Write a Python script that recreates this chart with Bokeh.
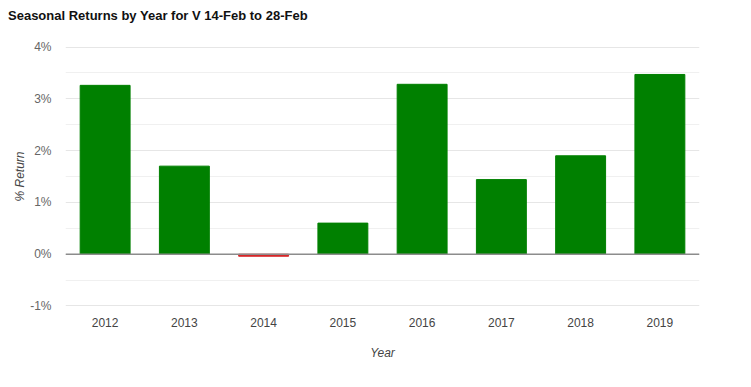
from bokeh.plotting import figure
from bokeh.layouts import column
from bokeh.models import ColumnDataSource, FactorRange, Range1d, FixedTicker, Span, CustomJSTickFormatter, Div
from bokeh.embed import file_html
from bokeh.resources import INLINE

title_text = "Seasonal Returns by Year for V 14-Feb to 28-Feb"
years = ["2012", "2013", "2014", "2015", "2016", "2017", "2018", "2019"]
returns = [3.26, 1.70, -0.04, 0.60, 3.28, 1.44, 1.90, 3.47]
colors = ["#008000" if r >= 0 else "#d62728" for r in returns]
y_ticks = [-1, 0, 1, 2, 3, 4]

src = ColumnDataSource(dict(year=years, ret=returns, color=colors))

header = Div(text=title_text, width=751, height=30, margin=(0, 0, 0, 0),
             styles={"font-family": "Liberation Sans", "font-size": "13px", "font-weight": "bold",
                     "color": "#111111", "padding-left": "8px", "padding-top": "8px",
                     "line-height": "16px", "background-color": "white", "box-sizing": "border-box"})

p = figure(width=751, height=357, x_range=FactorRange(*years, range_padding=0),
           y_range=Range1d(-1.01, 4.01), output_backend="svg", toolbar_location=None,
           min_border_left=65, min_border_right=52, min_border_top=16, min_border_bottom=81,
           margin=(0, 0, 0, 0))
p.outline_line_color = None
p.background_fill_color = "white"
p.border_fill_color = "white"

p.vbar(x="year", top="ret", bottom=0, width=0.63, fill_color="color", line_color="color",
       line_width=1, source=src)

zero = Span(location=0, dimension="width", line_color="#8c8c8c", line_width=1.5)
p.add_layout(zero)

p.yaxis.ticker = FixedTicker(ticks=y_ticks, minor_ticks=[-0.5, 0.5, 1.5, 2.5, 3.5])
p.yaxis.formatter = CustomJSTickFormatter(code="return tick + '%';")
p.ygrid.grid_line_color = "#e6e6e6"
p.ygrid.minor_grid_line_color = "#f0f0f0"
p.xgrid.grid_line_color = None
for ax in (p.xaxis, p.yaxis):
    ax.axis_line_color = None
    ax.major_tick_line_color = None
    ax.minor_tick_line_color = None
    ax.major_label_text_font = "Liberation Sans"
    ax.major_label_text_font_size = "12px"
    ax.axis_label_text_font = "Liberation Sans"
    ax.axis_label_text_font_size = "12px"
    ax.axis_label_text_font_style = "italic"
    ax.axis_label_text_color = "#444444"
p.yaxis.major_label_text_color = "#666666"
p.xaxis.major_label_text_color = "#444444"
p.yaxis.axis_label = "% Return"
p.xaxis.axis_label = "Year"
p.yaxis.major_label_standoff = 8
p.xaxis.major_label_standoff = 5
p.xaxis.axis_label_standoff = 16
p.yaxis.axis_label_standoff = 0

layout = column(header, p, spacing=0)
open("out.html", "w").write(file_html(layout, INLINE))
